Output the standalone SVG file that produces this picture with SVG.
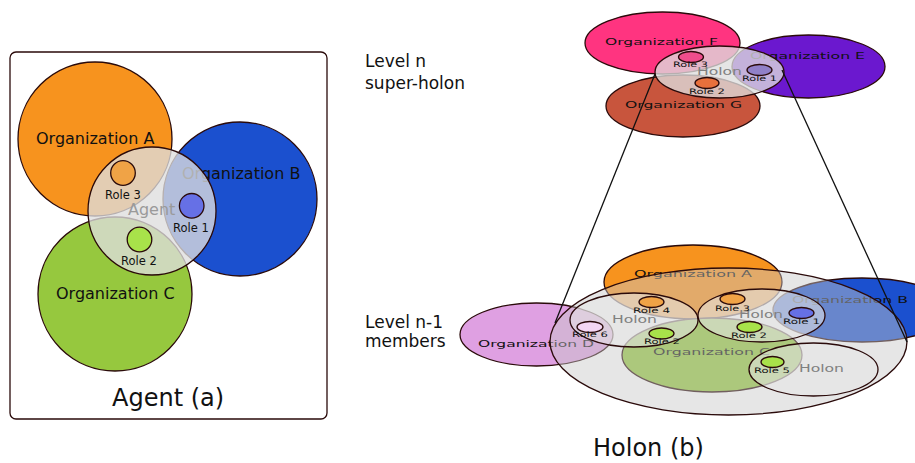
<svg xmlns="http://www.w3.org/2000/svg" width="915" height="463" viewBox="0 0 915 463">
<style>
text{font-family:"DejaVu Sans","Liberation Sans",sans-serif;fill:#111}
.o{stroke:#2a0a0a;stroke-width:1.3}
.big{font-size:16px}
.lvl{font-size:17px}
.ttl{font-size:24px}
.rl{font-size:11.5px}
.so{font-size:9px}
.sr{font-size:7.5px}
.sh{font-size:10px;fill:#808080}
.ovA{fill:#dedede;fill-opacity:0.78;stroke:#2a0a0a;stroke-width:1.3}
.ovB{fill:#c8c8c8;fill-opacity:0.45;stroke:#2a0a0a;stroke-width:1.3}
.ovS{fill:#e6e6e6;fill-opacity:0.55;stroke:#2a0a0a;stroke-width:1.3}
.orange{fill:#f7931e}.blue{fill:#1b50cf}.green{fill:#96c83e}
.rOr{fill:#f0a346}.rBl{fill:#6670e6}.rGr{fill:#a8e24a}
.con{stroke:#111;stroke-width:1.3;fill:none}
</style>

<!-- Left panel: Agent (a) -->
<rect x="10" y="52" width="317" height="367" rx="6" fill="#fff" stroke="#2a0a0a" stroke-width="1.3"/>
<g id="a-orgA"><circle class="o orange" cx="95" cy="139" r="77"/><text class="big" x="36" y="144">Organization A</text></g>
<g id="a-orgB"><circle class="o blue" cx="240" cy="199" r="77"/><text class="big" x="182" y="179">Organization B</text></g>
<g id="a-orgC"><circle class="o green" cx="115" cy="294" r="77"/><text class="big" x="56" y="299">Organization C</text></g>
<g id="a-agent"><circle class="ovA" cx="152" cy="211" r="64"/><text class="big" x="128" y="215" style="fill:#9a9a9a">Agent</text></g>
<g id="a-role3"><circle class="o rOr" cx="123" cy="173" r="12.3"/><text class="rl" x="105" y="199">Role 3</text></g>
<g id="a-role1"><circle class="o rBl" cx="191.7" cy="205.8" r="12.3"/><text class="rl" x="173" y="232">Role 1</text></g>
<g id="a-role2"><circle class="o rGr" cx="139.5" cy="239.5" r="12.3"/><text class="rl" x="121" y="265">Role 2</text></g>
<text class="ttl" x="112" y="406">Agent (a)</text>

<!-- Right panel labels -->
<text class="lvl" x="365" y="67">Level n</text>
<text class="lvl" x="365" y="89">super-holon</text>
<text class="lvl" x="365" y="328">Level n-1</text>
<text class="lvl" x="365" y="347">members</text>
<text class="ttl" x="593" y="456">Holon (b)</text>

<!-- Super-holon (level n) -->
<g id="h-orgF"><ellipse class="o" fill="#ff3480" cx="662.5" cy="43" rx="77.5" ry="31"/><text class="so" x="605" y="45" textLength="113" lengthAdjust="spacingAndGlyphs">Organization F</text></g>
<g id="h-orgE"><ellipse class="o" fill="#6b18cf" cx="808.5" cy="66.5" rx="76.5" ry="31.5"/><text class="so" x="750" y="59" textLength="115" lengthAdjust="spacingAndGlyphs">Organization E</text></g>
<g id="h-orgG"><ellipse class="o" fill="#c8553d" cx="683" cy="106" rx="77" ry="31"/><text class="so" x="625" y="108" textLength="117" lengthAdjust="spacingAndGlyphs">Organization G</text></g>
<g id="h-holon"><ellipse class="ovA" cx="719.5" cy="72" rx="64.5" ry="26"/><text class="sh" x="697" y="75" textLength="45" lengthAdjust="spacingAndGlyphs">Holon</text></g>
<g id="h-role3"><ellipse class="o" fill="#ee4d8c" cx="691" cy="57" rx="12.5" ry="5.5"/><text class="sr" x="673" y="67" textLength="35" lengthAdjust="spacingAndGlyphs">Role 3</text></g>
<g id="h-role2"><ellipse class="o" fill="#e8703c" cx="707" cy="83" rx="12" ry="5.5"/><text class="sr" x="689" y="93.5" textLength="36" lengthAdjust="spacingAndGlyphs">Role 2</text></g>
<g id="h-role1"><ellipse class="o" fill="#9080c8" cx="759.5" cy="70" rx="12.5" ry="5.5"/><text class="sr" x="742" y="80.5" textLength="35" lengthAdjust="spacingAndGlyphs">Role 1</text></g>

<!-- Members (level n-1) -->
<g id="m-orgA"><ellipse class="o orange" cx="693" cy="282" rx="89" ry="37"/><text class="so" x="634" y="277" textLength="118" lengthAdjust="spacingAndGlyphs">Organization A</text></g>
<g id="m-orgB"><ellipse class="o blue" cx="862" cy="310" rx="89" ry="32"/><text class="so" x="792" y="303" textLength="116" lengthAdjust="spacingAndGlyphs">Organization B</text></g>
<g id="m-orgD"><ellipse class="o" fill="#dfa0e2" cx="536.5" cy="334.5" rx="76.5" ry="31.5"/><text class="so" x="478" y="347" textLength="116" lengthAdjust="spacingAndGlyphs">Organization D</text></g>
<g id="m-orgC"><ellipse class="o green" cx="712" cy="355" rx="90" ry="37"/><text class="so" x="653" y="355" textLength="117" lengthAdjust="spacingAndGlyphs">Organization C</text></g>
<g id="m-outer"><ellipse class="ovB" cx="728.5" cy="341.5" rx="178.5" ry="73.5"/></g>
<g id="m-holon1"><ellipse class="ovS" cx="634" cy="320" rx="64" ry="27"/><text class="sh" x="612" y="323" textLength="45" lengthAdjust="spacingAndGlyphs">Holon</text></g>
<g id="m-holon2"><ellipse class="ovS" cx="761.5" cy="315.5" rx="63.5" ry="26.5"/><text class="sh" x="739" y="318" textLength="44" lengthAdjust="spacingAndGlyphs">Holon</text></g>
<g id="m-holon3"><ellipse class="ovS" cx="813.5" cy="369.5" rx="64.5" ry="26.5"/><text class="sh" x="799" y="372" textLength="45" lengthAdjust="spacingAndGlyphs">Holon</text></g>
<g id="m-role4"><ellipse class="o rOr" cx="651.5" cy="302" rx="12.5" ry="5.5"/><text class="sr" x="633" y="313" textLength="37" lengthAdjust="spacingAndGlyphs">Role 4</text></g>
<g id="m-role6"><ellipse class="o" fill="#f4d6f4" cx="590" cy="327" rx="13" ry="5.5"/><text class="sr" x="572" y="337" textLength="36" lengthAdjust="spacingAndGlyphs">Role 6</text></g>
<g id="m-role2a"><ellipse class="o rGr" cx="661.5" cy="333.5" rx="12.5" ry="5.5"/><text class="sr" x="644" y="344" textLength="36" lengthAdjust="spacingAndGlyphs">Role 2</text></g>
<g id="m-role3"><ellipse class="o rOr" cx="732.5" cy="299" rx="12.5" ry="5.5"/><text class="sr" x="715" y="311" textLength="35" lengthAdjust="spacingAndGlyphs">Role 3</text></g>
<g id="m-role1"><ellipse class="o rBl" cx="801.5" cy="313" rx="12.5" ry="5.5"/><text class="sr" x="783" y="324" textLength="37" lengthAdjust="spacingAndGlyphs">Role 1</text></g>
<g id="m-role2b"><ellipse class="o rGr" cx="749.5" cy="327" rx="12.5" ry="5.5"/><text class="sr" x="731" y="338" textLength="36" lengthAdjust="spacingAndGlyphs">Role 2</text></g>
<g id="m-role5"><ellipse class="o rGr" cx="772.5" cy="362" rx="11.5" ry="5.5"/><text class="sr" x="754" y="373" textLength="36" lengthAdjust="spacingAndGlyphs">Role 5</text></g>

<!-- Connectors -->
<g id="connectors">
<line class="con" x1="655" y1="74" x2="555" y2="323"/>
<line class="con" x1="782" y1="70" x2="907" y2="342"/>
</g>
</svg>
